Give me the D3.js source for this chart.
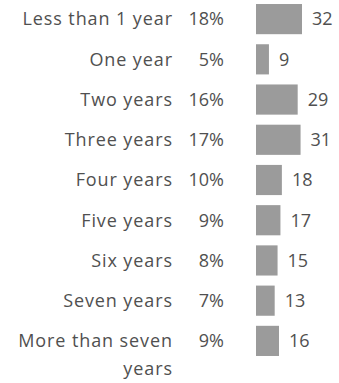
<!DOCTYPE html>
<html lang="en">
<head>
<meta charset="UTF-8">
<script src="https://d3js.org/d3.v7.min.js"></script>
<style>
  html,body{margin:0;padding:0;background:#fff;}
  text{font-family:'Open Sans',sans-serif;font-size:18px;fill:#505050;}
  text.cat{letter-spacing:0.9px;}
</style>
</head>
<body>
<div id="chart"></div>
<script>
var categories = ["Less than 1 year","One year","Two years","Three years","Four years","Five years","Six years","Seven years","More than seven years"];
var percents = ["18%","5%","16%","17%","10%","9%","8%","7%","9%"];
var counts = [32,9,29,31,18,17,15,13,16];

var width = 339, height = 383;
var svg = d3.select("#chart").append("svg")
  .attr("width", width)
  .attr("height", height);

var y = d3.scaleBand()
  .domain(categories)
  .range([0, 360])
  .paddingInner(0.25)
  .paddingOuter(0.1);

var barX = 256;
var x = d3.scaleLinear().domain([0, 32]).range([0, 46]);

var rows = svg.selectAll("g.row")
  .data(categories)
  .enter().append("g")
  .attr("class", "row")
  .attr("transform", function(d){ return "translate(0," + y(d) + ")"; });

// category labels, right aligned, wrapped
rows.append("text")
  .attr("class", "cat")
  .attr("x", 172.9)
  .attr("y", y.bandwidth()/2)
  .attr("dy", "0.35em")
  .attr("text-anchor", "end")
  .text(function(d){ return d; })
  .each(function(){ wrap(d3.select(this), 168); });

rows.append("text")
  .attr("x", 224)
  .attr("y", y.bandwidth()/2)
  .attr("dy", "0.35em")
  .attr("text-anchor", "end")
  .text(function(d, i){ return percents[i]; });

rows.append("rect")
  .attr("x", barX)
  .attr("y", 0)
  .attr("height", y.bandwidth())
  .attr("width", function(d, i){ return x(counts[i]); })
  .style("fill", "#9b9b9b");

rows.append("text")
  .attr("x", function(d, i){ return barX + x(counts[i]) + 10; })
  .attr("y", y.bandwidth()/2)
  .attr("dy", "0.35em")
  .text(function(d, i){ return counts[i]; });

function wrap(text, w){
  var words = text.text().split(/\s+/).reverse(),
      word, line = [], lineNo = 0,
      xx = text.attr("x"), yy = text.attr("y"),
      tspan = text.text(null).append("tspan").attr("x", xx).attr("y", yy).attr("dy", "0.35em");
  while (word = words.pop()) {
    line.push(word);
    tspan.text(line.join(" "));
    if (tspan.node().getComputedTextLength() > w && line.length > 1) {
      line.pop();
      tspan.text(line.join(" "));
      line = [word];
      lineNo++;
      tspan = text.append("tspan").attr("x", xx).attr("y", yy)
        .attr("dy", (0.35 + lineNo * 1.55) + "em").text(word);
    }
  }
}
</script>
</body>
</html>
